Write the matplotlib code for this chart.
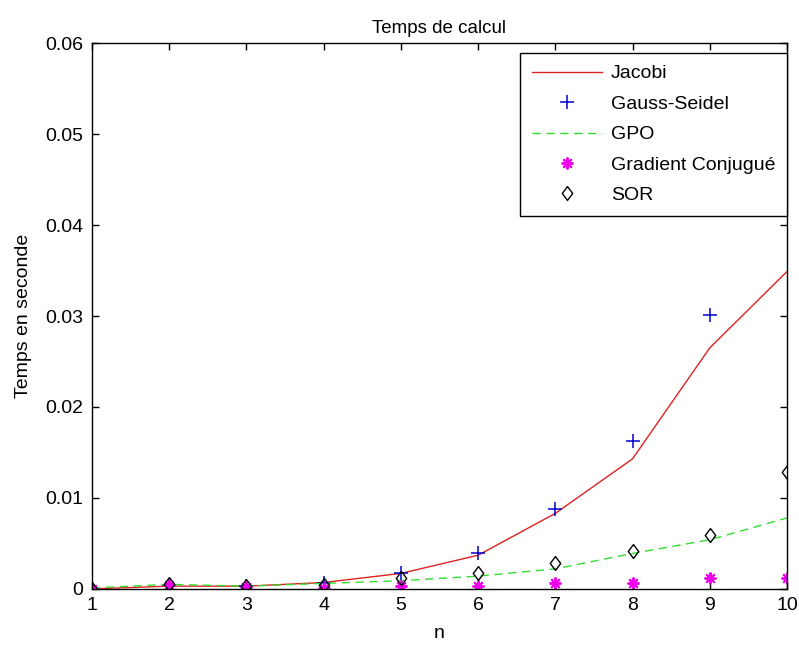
import numpy as np
import matplotlib
matplotlib.use('Agg')
import matplotlib.pyplot as plt

# données
n = [1, 2, 3, 4, 5, 6, 7, 8, 9, 10]
jacobi = [0.0000, 0.0003, 0.0003, 0.0007, 0.0017, 0.0037, 0.0083, 0.0143, 0.0265, 0.0349]
gauss_seidel = [0.0000, 0.0004, 0.0003, 0.0006, 0.0017, 0.0040, 0.0088, 0.0163, 0.0301, 0.0535]
gpo = [0.0001, 0.0005, 0.0003, 0.0006, 0.0009, 0.0014, 0.0022, 0.0039, 0.0054, 0.0078]
gradient_conj = [0.0000, 0.0004, 0.0002, 0.0001, 0.0003, 0.0003, 0.0006, 0.0006, 0.0012, 0.0012]
sor = [0.0000, 0.0005, 0.0003, 0.0004, 0.0012, 0.0017, 0.0029, 0.0042, 0.0059, 0.0129]

plt.rcParams['font.family'] = ['Liberation Sans', 'DejaVu Sans']
plt.rcParams['font.size'] = 14

# losange style matlab
losange = [(0, 1), (0.75, 0), (0, -1), (-0.75, 0), (0, 1)]

fig = plt.figure(figsize=(7.99, 6.45), dpi=100)
ax = fig.add_axes([0.115, 0.087, 0.870, 0.846])

ax.plot(n, jacobi, '-', color='#dd2222', lw=1, label='Jacobi')
ax.plot(n, gauss_seidel, '+', color='#0000cc', ms=9.5, mew=1.1, ls='none', label='Gauss-Seidel')
ax.plot(n, gpo, '--', color='#33dd33', lw=1, dashes=(6, 4), label='GPO')
ax.plot(n, gradient_conj, marker=(8, 2, 0), color='#ee00ee', ms=8.5, mew=1.4, ls='none',
        label='Gradient Conjugué')
ax.plot(n, sor, marker=losange, mfc='none', mec='black', ms=10, mew=1, ls='none', label='SOR')

ax.set_xlim(1, 10)
ax.set_ylim(0, 0.06)
ax.set_xticks(n)
ax.set_yticks([0, 0.01, 0.02, 0.03, 0.04, 0.05, 0.06])
ax.set_yticklabels(['0', '0.01', '0.02', '0.03', '0.04', '0.05', '0.06'])
ax.tick_params(direction='in', top=True, right=True, length=5, width=1, pad=6)
for s in ax.spines.values():
    s.set_linewidth(1)

ax.set_title('Temps de calcul', fontsize=13.5, pad=7)
ax.set_xlabel('n', labelpad=8)
ax.set_ylabel('Temps en seconde', labelpad=10)

leg = ax.legend(loc='upper right', bbox_to_anchor=(1.0, 1 - 10 / 546), borderaxespad=0,
                fancybox=False, edgecolor='black', framealpha=1,
                handlelength=3.6, handletextpad=0.45, labelspacing=0.66, borderpad=0.6)
leg.get_frame().set_linewidth(1)

fig.savefig('out.png', dpi=100)
